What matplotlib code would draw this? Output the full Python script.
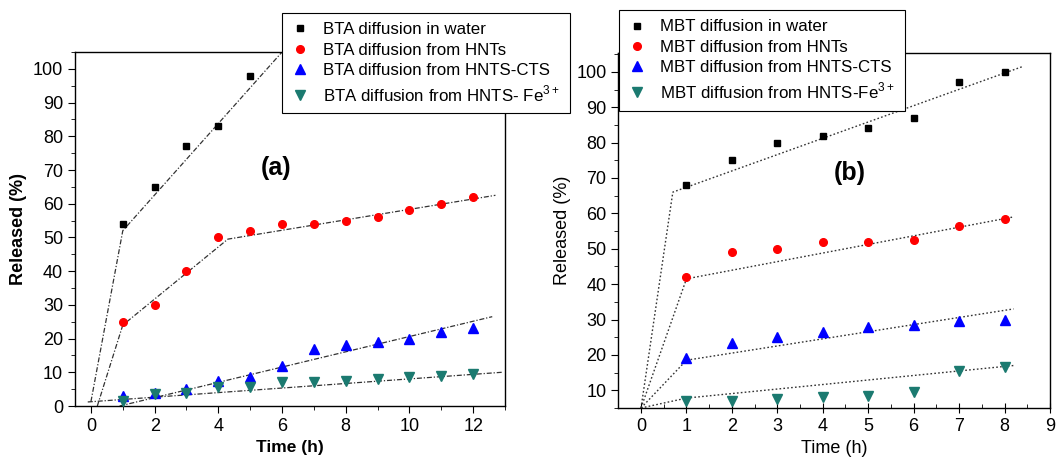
import numpy as np
import matplotlib
matplotlib.use('Agg')
import matplotlib.pyplot as plt
from matplotlib.ticker import MultipleLocator

plt.rcParams['font.family'] = ['Liberation Sans', 'DejaVu Sans']
plt.rcParams['mathtext.fontset'] = 'custom'
plt.rcParams['mathtext.rm'] = 'Liberation Sans'

# ---- panel (a): BTA ----
t_a = [1, 2, 3, 4, 5, 6, 7, 8, 9, 10, 11, 12]
bta_water = [54, 65, 77, 83, 98]
bta_hnt = [25, 30, 40, 50, 52, 54, 54, 55, 56, 58, 60, 62]
bta_cts = [3, 4, 5, 7.5, 8.5, 12, 17, 18, 19, 20, 22, 23]
bta_fe = [1.5, 3.5, 4, 5.5, 5.5, 7, 7, 7.5, 8, 8.5, 9, 9.5]
# fitted segments (x, y)
fit_a = [
    ([0, 1, 6.0], [1.3, 52, 105]),
    ([0.2, 1, 4.3, 12.7], [0, 24, 49.5, 62.5]),
    ([0.9, 12.6], [0, 26.5]),
    ([-0.1, 12.9], [1.2, 10]),
]

# ---- panel (b): MBT ----
t_b = [1, 2, 3, 4, 5, 6, 7, 8]
mbt_water = [68, 75, 80, 82, 84, 87, 97, 100]
mbt_hnt = [42, 49, 50, 52, 52, 52.5, 56.5, 58.5]
mbt_cts = [19, 23.5, 25, 26.5, 28, 28.5, 29.5, 30]
mbt_fe = [7, 7, 7.5, 8, 8.5, 9.5, 15.5, 16.5]
fit_b = [
    ([0, 0.7, 8.4], [5, 66, 101.5]),
    ([0, 1, 8.2], [5, 41.5, 59]),
    ([0, 1, 8.2], [5, 18.5, 33]),
    ([0, 1, 8.2], [5, 7.8, 17]),
]

colors = ['black', '#ff0000', '#0000ff', '#1b7a70']
markers = ['s', 'o', '^', 'v']
msizes = [5, 5.5, 7, 7]

fig = plt.figure(figsize=(10.58, 4.62), dpi=100)
ax1 = fig.add_axes([0.0709, 0.1212, 0.4064, 0.7662])
ax2 = fig.add_axes([0.5844, 0.1169, 0.408, 0.769])

leg_kw = dict(borderaxespad=0, fontsize=12.2, fancybox=False, edgecolor='black',
              framealpha=1, handlelength=1.0, handletextpad=0.9,
              labelspacing=0.32, borderpad=0.55)

# left panel
labels_a = ['BTA diffusion in water', 'BTA diffusion from HNTs',
            'BTA diffusion from HNTS-CTS', 'BTA diffusion from HNTS- Fe$^{3+}$']
series_a = [bta_water, bta_hnt, bta_cts, bta_fe]
for i in range(4):
    ax1.plot(t_a[:len(series_a[i])], series_a[i], ls='none', marker=markers[i],
             ms=msizes[i], color=colors[i], label=labels_a[i], zorder=3)
for xs, ys in fit_a:
    ax1.plot(xs, ys, color='#333333', lw=0.9, ls=(0, (4, 1.5, 1, 1.5)), zorder=2)
ax1.set_xlim(-0.5, 13)
ax1.set_ylim(0, 105)
ax1.xaxis.set_major_locator(MultipleLocator(2))
ax1.xaxis.set_minor_locator(MultipleLocator(1))
ax1.yaxis.set_major_locator(MultipleLocator(10))
ax1.yaxis.set_minor_locator(MultipleLocator(5))
ax1.tick_params(which='both', direction='out', labelsize=13)
ax1.tick_params(which='major', length=5)
ax1.tick_params(which='minor', length=3)
ax1.set_xlabel('Time (h)', fontsize=12.5, fontweight='bold')
ax1.set_ylabel('Released (%)', fontsize=13, fontweight='bold')
ax1.text(5.8, 70.5, '(a)', fontsize=18, fontweight='bold', ha='center', va='center')
leg1 = ax1.legend(loc='upper left', bbox_to_anchor=(0.2665, 0.972),
                  bbox_transform=fig.transFigure, **leg_kw)
leg1.get_frame().set_linewidth(0.8)
leg1.set_zorder(5)

# right panel
labels_b = ['MBT diffusion in water', 'MBT diffusion from HNTs',
            'MBT diffusion from HNTS-CTS', 'MBT diffusion from HNTS-Fe$^{3+}$']
series_b = [mbt_water, mbt_hnt, mbt_cts, mbt_fe]
for i in range(4):
    ax2.plot(t_b, series_b[i], ls='none', marker=markers[i],
             ms=msizes[i], color=colors[i], label=labels_b[i], zorder=3)
for xs, ys in fit_b:
    ax2.plot(xs, ys, color='#333333', lw=1.0, ls=(0, (1.2, 1.6)), zorder=2)
ax2.set_xlim(-0.5, 9)
ax2.set_ylim(5, 105.4)
ax2.set_xticks(range(0, 10))
ax2.set_yticks(range(10, 101, 10))
ax2.xaxis.set_minor_locator(MultipleLocator(0.5))
ax2.yaxis.set_minor_locator(MultipleLocator(5))
ax2.tick_params(axis='x', which='major', direction='inout', length=7, labelsize=13)
ax2.tick_params(axis='x', which='minor', direction='in', length=3)
ax2.tick_params(axis='y', which='major', direction='out', length=5, labelsize=13)
ax2.tick_params(axis='y', which='minor', direction='out', length=3)
ax2.set_xlabel('Time (h)', fontsize=13)
ax2.set_ylabel('Released (%)', fontsize=13)
ax2.text(4.6, 71.4, '(b)', fontsize=18, fontweight='bold', ha='center', va='center')
leg2 = ax2.legend(loc='upper left', bbox_to_anchor=(0.585, 0.978),
                  bbox_transform=fig.transFigure, **leg_kw)
leg2.get_frame().set_linewidth(0.8)

for ax in (ax1, ax2):
    for s in ax.spines.values():
        s.set_linewidth(1.0)

fig.savefig('out.png', dpi=100)
